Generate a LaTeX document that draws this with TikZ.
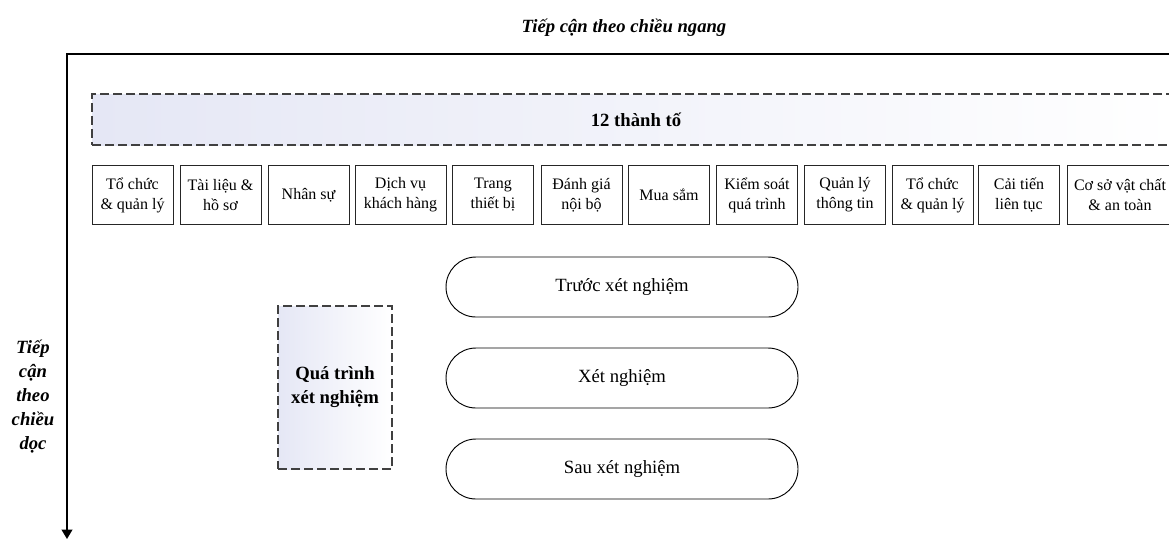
\documentclass[tikz,border=0pt]{standalone}
\usepackage{fontspec}
\setmainfont{Liberation Serif}
\usetikzlibrary{arrows.meta}

\definecolor{lavender}{RGB}{229,231,245}
\definecolor{dashgray}{RGB}{64,64,64}

\tikzset{
  axisline/.style={line width=1.2pt, -{Triangle[width=8pt,length=7pt]}},
  axislabel/.style={font=\fontsize{14}{18}\selectfont\bfseries\itshape, align=center},
  groupbox/.style={draw=dashgray, line width=0.9pt, dash pattern=on 6.75pt off 3pt,
    font=\fontsize{14}{18}\selectfont\bfseries, align=center},
  elembox/.style={draw=black!85, line width=0.6pt, minimum width=60.75pt, minimum height=44pt,
    inner sep=1pt, align=center, font=\fontsize{12}{15}\selectfont},
  stagebox/.style={draw, line width=0.7pt, rounded corners=22.5pt, minimum width=264pt,
    minimum height=45pt, font=\fontsize{14}{17}\selectfont},
}

\begin{document}
\begin{tikzpicture}[x=0.75pt, y=-0.75pt]
\useasboundingbox (0,0) rectangle (1169,540);
\clip (0,0) rectangle (1169,540);

% Axes
\coordinate (origin) at (67,54);
\coordinate (h-end)  at (1190,54);
\coordinate (v-end)  at (67,539);
\draw[axisline] (h-end) -- (origin) -- (v-end);
\node[axislabel] (h-label) at (624,28) {Tiếp cận theo chiều ngang};
\node[axislabel] (v-label) at (33,397) {Tiếp\\cận\\theo\\chiều\\dọc};

% 12 elements
\node[groupbox, left color=lavender, right color=white, minimum width=816pt,
  minimum height=38.25pt] (elements) at (636,119.5) {12 thành tố};

\node[elembox] (e1)  at (132.5,195) {Tổ chức\\\& quản lý};
\node[elembox] (e2)  at (220.5,195) {Tài liệu \&\\hồ sơ};
\node[elembox] (e3)  at (308.5,195) {Nhân sự};
\node[elembox, minimum width=68.25pt] (e4) at (400.5,195) {Dịch vụ\\khách hàng};
\node[elembox] (e5)  at (493,195)   {Trang\\thiết bị};
\node[elembox] (e6)  at (581.5,195) {Đánh giá\\nội bộ};
\node[elembox] (e7)  at (669,195)   {Mua sắm};
\node[elembox] (e8)  at (757,195)   {Kiểm soát\\quá trình};
\node[elembox] (e9)  at (845,195)   {Quản lý\\thông tin};
\node[elembox] (e10) at (932.5,195) {Tổ chức\\\& quản lý};
\node[elembox] (e11) at (1019,195)  {Cải tiến\\liên tục};
\node[elembox, minimum width=79.5pt] (e12) at (1120,195) {Cơ sở vật chất\\\& an toàn};

% Testing process
\node[groupbox, left color=lavender, right color=white,
  minimum width=85.5pt, minimum height=122.25pt] (process) at (335,387.5) {Quá trình\\xét nghiệm};

\node[stagebox] (pre)  at (622,287) {Trước xét nghiệm};
\node[stagebox] (exam) at (622,378) {Xét nghiệm};
\node[stagebox] (post) at (622,469) {Sau xét nghiệm};

\end{tikzpicture}
\end{document}
